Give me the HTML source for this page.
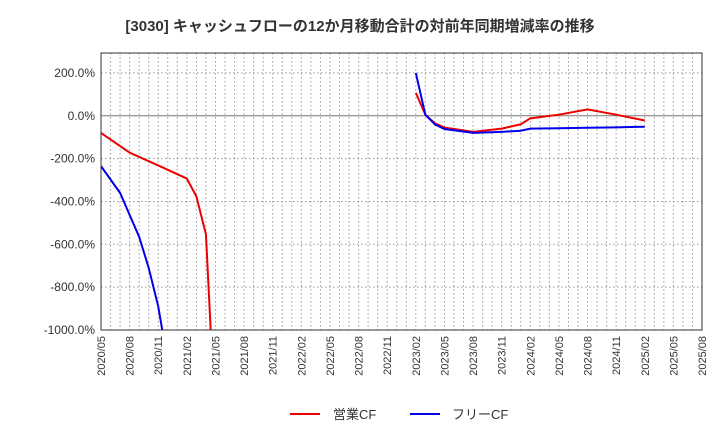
<!DOCTYPE html>
<html><head><meta charset="utf-8"><style>
body{margin:0;background:#fff;font-family:"Liberation Sans","Noto Sans CJK JP",sans-serif;}
</style></head><body>
<svg id="c" width="720" height="440" xmlns="http://www.w3.org/2000/svg">
<text x="360" y="31" text-anchor="middle" font-size="15" font-weight="bold" fill="#333">[3030]  キャッシュフローの12か月移動合計の対前年同期増減率の推移</text>
<g id="grid"></g><g id="series"></g><g id="axes"></g>
<g>
<line x1="290" y1="414" x2="320" y2="414" stroke="#e00" stroke-width="2"/>
<text x="333" y="419" font-size="13" fill="#333">営業CF</text>
<line x1="410" y1="414" x2="440" y2="414" stroke="#00e" stroke-width="2"/>
<text x="452" y="419" font-size="13" fill="#333">フリーCF</text>
</g>
</svg>
<script>
const xLabels=["2020/05","2020/08","2020/11","2021/02","2021/05","2021/08","2021/11","2022/02","2022/05","2022/08","2022/11","2023/02","2023/05","2023/08","2023/11","2024/02","2024/05","2024/08","2024/11","2025/02","2025/05","2025/08"];
const yTicks=[200,0,-200,-400,-600,-800,-1000];
const redIdx=[0,3,6,9,10,11,12];
const redVals=[-80,-172,-232,-293,-377,-553,-1450];
const blueIdx=[0,2,4,5,6,7];
const blueVals=[-235,-360,-565,-710,-890,-1150];
const red2Idx=[33,34,35,36,39,42,44,45,48,51,54,57];
const red2Vals=[107,5,-35,-55,-75,-60,-40,-12,5,30,5,-22];
const blue2Idx=[33,34,35,36,39,42,44,45,48,51,54,57];
const blue2Vals=[200,5,-40,-62,-80,-75,-70,-60,-58,-56,-54,-51];
const L=101,R=702,T=53,B=330,ymin=-1000,ymax=293;
const X=i=>L+i*(R-L)/63, Y=v=>B-(v-ymin)*(B-T)/(ymax-ymin);
const NS="http://www.w3.org/2000/svg";
function mk(p,t,a){const e=document.createElementNS(NS,t);for(const k in a)e.setAttribute(k,a[k]);p.appendChild(e);return e;}
const g=document.getElementById('grid'),ax=document.getElementById('axes'),s=document.getElementById('series');
mk(g,'rect',{x:L,y:T,width:R-L,height:B-T,fill:'#fff'});
for(let i=1;i<63;i++){const l=mk(g,'line',{x1:X(i),x2:X(i),y1:T,y2:B,stroke:'#999','stroke-dasharray':'1.5,2.5'});

}
yTicks.forEach(v=>{const l=mk(g,'line',{x1:L,x2:R,y1:Y(v),y2:Y(v),stroke:v===0?'#777':'#999','stroke-dasharray':v===0?'':'1.5,2.5'});


const t=mk(ax,'text',{x:L-6,y:Y(v)+4,'text-anchor':'end','font-size':12,fill:'#333'});t.textContent=v.toFixed(1)+'%';

});
xLabels.forEach((lb,k)=>{const x=X(k*3);const t=mk(ax,'text',{x:x+4,y:B+6,'text-anchor':'end','font-size':11,fill:'#333',transform:`rotate(-90 ${x+4} ${B+6})`});t.textContent=lb;

});
const fr=mk(ax,'rect',{x:L,y:T,width:R-L,height:B-T,fill:'none',stroke:'#333'});


mk(s,'clipPath',{id:'cp'}).appendChild(document.createElementNS(NS,'rect'));
const cr=s.querySelector('#cp rect');cr.setAttribute('x',L);cr.setAttribute('y',T);cr.setAttribute('width',R-L);cr.setAttribute('height',B-T);
function line(idx,vals,col,name){const p=mk(s,'polyline',{points:idx.map((i,k)=>X(i)+','+Y(vals[k])).join(' '),fill:'none',stroke:col,'stroke-width':2,'clip-path':'url(#cp)'});

}
line(redIdx,redVals,'#e00','operating-cf-line');
line(blueIdx,blueVals,'#00e','free-cf-line');
line(red2Idx,red2Vals,'#e00','operating-cf-line-2');
line(blue2Idx,blue2Vals,'#00e','free-cf-line-2');
</script>
</body></html>
